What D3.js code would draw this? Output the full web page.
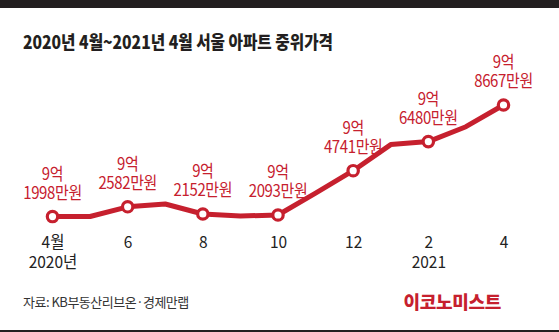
<!DOCTYPE html>
<html>
<head>
<meta charset="utf-8">
<script src="https://cdn.jsdelivr.net/npm/d3@7"></script>
<style>
  body { margin: 0; background: #fff; }
  svg { display: block; font-family: "Noto Sans CJK KR", "Noto Sans", sans-serif; }
</style>
</head>
<body>
<svg width="559" height="332"></svg>
<script>
// 월별 서울 아파트 중위가격 (만원)
var months = ['2020-04','2020-05','2020-06','2020-07','2020-08','2020-09','2020-10',
              '2020-11','2020-12','2021-01','2021-02','2021-03','2021-04'];
var prices = [91998, 92000, 92582, 92750, 92152, 92030, 92093,
              93400, 94741, 96300, 96480, 97370, 98667];
var labeled = ['2020-04','2020-06','2020-08','2020-10','2020-12','2021-02','2021-04'];
var tickLabels = ['4월','6','8','10','12','2','4'];
var yearLabels = ['2020년','','','','','2021',''];

var red = '#c6202e';
var dark = '#231f20';

var svg = d3.select('svg');

// 위/아래 띠
svg.append('rect').attr('x',0).attr('y',0).attr('width',559).attr('height',8).attr('fill',dark);
svg.append('rect').attr('x',0).attr('y',330).attr('width',559).attr('height',2).attr('fill',dark);

// 제목 (좁은 글꼴 느낌으로 가로 축소)
svg.append('text')
    .attr('transform','translate(23,49) scale(0.87,1)')
    .attr('font-size',18)
    .attr('font-weight',900)
    .attr('fill',dark)
    .text('2020년 4월~2021년 4월 서울 아파트 중위가격');

var scaleX = d3.scalePoint().domain(months).range([52.5, 503.5]);
var scaleY = d3.scaleLinear().domain([90000,100000]).range([250, 82.7]);

var line = d3.line()
    .x(function(d,i){ return scaleX(months[i]); })
    .y(function(d){ return scaleY(d); });

svg.append('path')
    .datum(prices)
    .attr('d', line)
    .attr('fill','none')
    .attr('stroke',red)
    .attr('stroke-width',5)
    .attr('stroke-linejoin','round');

var points = labeled.map(function(m){
    return { m: m, v: prices[months.indexOf(m)] };
});

svg.selectAll('circle')
    .data(points)
    .enter()
    .append('circle')
    .attr('cx', function(d){ return scaleX(d.m); })
    .attr('cy', function(d){ return scaleY(d.v); })
    .attr('r', 5.2)
    .attr('fill','#fff')
    .attr('stroke',red)
    .attr('stroke-width',3.2);

var labels = svg.selectAll('.val')
    .data(points)
    .enter()
    .append('text')
    .attr('class','val')
    .attr('transform', function(d){
        return 'translate(' + scaleX(d.m) + ',' + scaleY(d.v) + ') scale(0.88,1)';
    })
    .attr('text-anchor','middle')
    .attr('font-size',17)
    .attr('letter-spacing',-0.4)
    .attr('fill',red);

labels.append('tspan')
    .attr('x',0)
    .attr('y',-37)
    .text(function(d){ return Math.floor(d.v/10000) + '억'; });

labels.append('tspan')
    .attr('x',0)
    .attr('y',-18)
    .text(function(d){ return (d.v % 10000) + '만원'; });

// x축
var axis = svg.append('g')
    .attr('transform','translate(0,235)')
    .call(d3.axisBottom(scaleX)
        .tickValues(labeled)
        .tickSize(0)
        .tickPadding(0)
        .tickFormat(function(d,i){ return tickLabels[i]; }));

axis.select('.domain').remove();
axis.selectAll('text')
    .attr('font-size',16.5)
    .attr('font-family','"Noto Sans CJK KR", sans-serif')
    .attr('fill','#222')
    .attr('transform','scale(0.94,1)')
    .attr('dy','0.8em');

axis.selectAll('.tick')
    .append('text')
    .attr('y',33)
    .attr('transform','scale(0.94,1)')
    .attr('font-size',16.5)
    .attr('font-family','"Noto Sans CJK KR", sans-serif')
    .attr('fill','#222')
    .text(function(d,i){ return yearLabels[i]; });

svg.append('text')
    .attr('x',23)
    .attr('y',307)
    .attr('font-size',13)
    .attr('letter-spacing',-0.5)
    .attr('fill','#333')
    .text('자료: KB부동산리브온·경제만랩');

svg.append('text')
    .attr('x',501)
    .attr('y',309)
    .attr('text-anchor','end')
    .attr('font-size',18)
    .attr('font-weight',900)
    .attr('letter-spacing',-0.3)
    .attr('fill',red)
    .text('이코노미스트');
</script>
</body>
</html>
